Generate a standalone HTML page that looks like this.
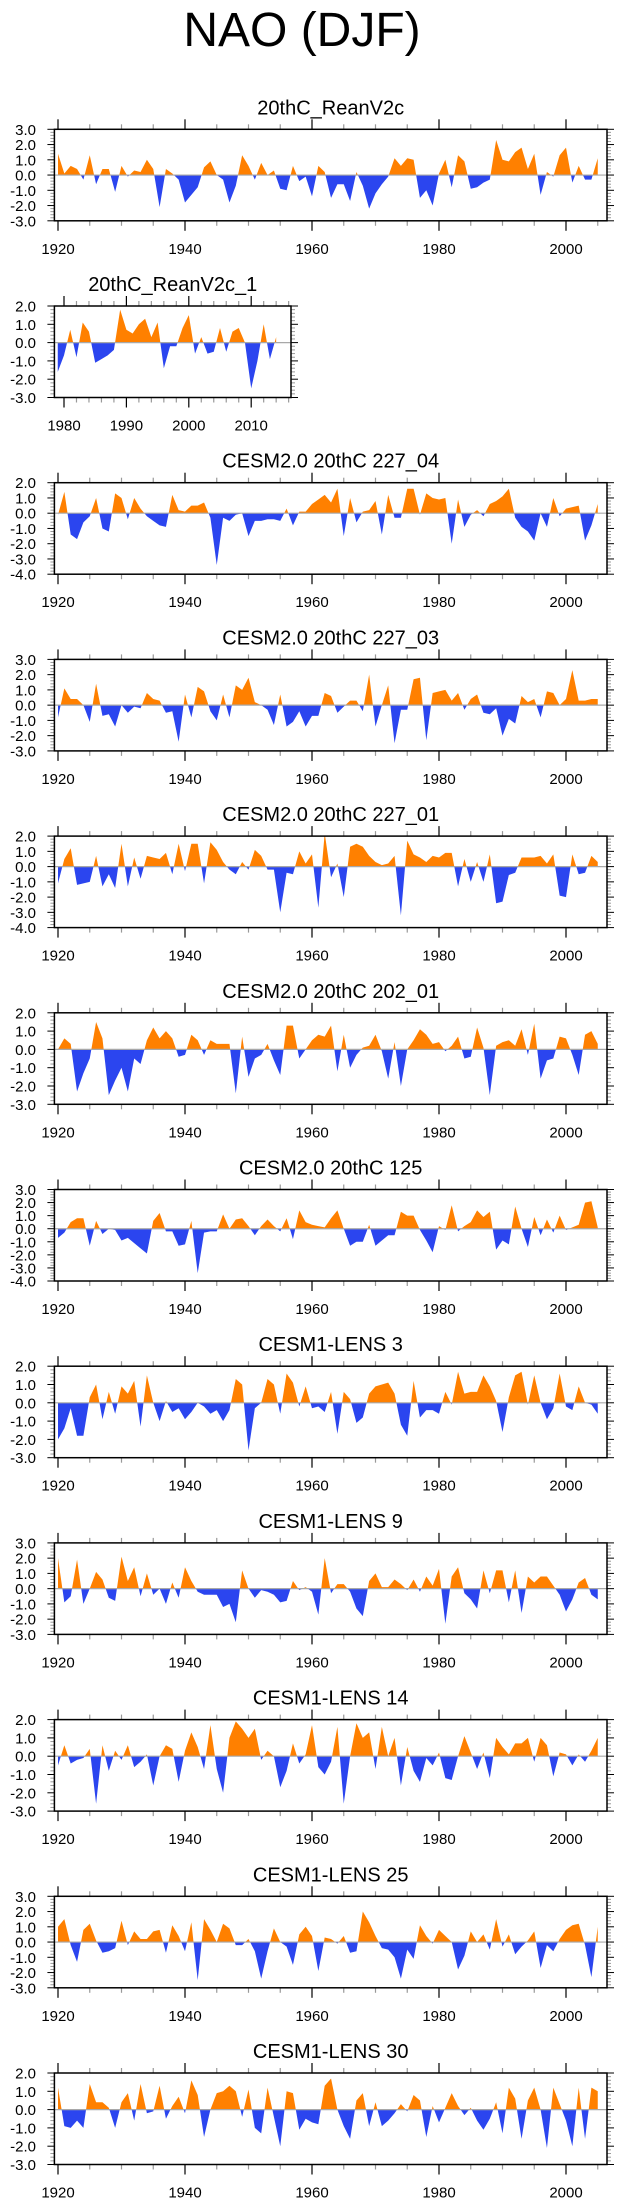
<!DOCTYPE html>
<html><head><meta charset="utf-8"><style>
html,body{margin:0;padding:0;background:#fff;}
svg{display:block;font-family:"Liberation Sans",Arial,sans-serif;}
</style></head><body>
<svg id="chart" width="623" height="2209" viewBox="0 0 623 2209" xmlns="http://www.w3.org/2000/svg">
<text x="302" y="46" font-size="48" text-anchor="middle" fill="#000">NAO (DJF)</text>
</svg>
<script>
const panelTitles = ["20thC_ReanV2c","20thC_ReanV2c_1","CESM2.0 20thC 227_04","CESM2.0 20thC 227_03","CESM2.0 20thC 227_01","CESM2.0 20thC 202_01","CESM2.0 20thC 125","CESM1-LENS 3","CESM1-LENS 9","CESM1-LENS 14","CESM1-LENS 25","CESM1-LENS 30"];
const panelYMax = [3,2,2,3,2,2,3,2,3,2,3,2];
const panelYMin = [-3,-3,-4,-3,-4,-3,-4,-3,-3,-3,-3,-3];
const startYears = [1920,1979,1920,1920,1920,1920,1920,1920,1920,1920,1920,1920];
const xTickLabels = ["1920","1940","1960","1980","2000"];
const xTickLabelsShort = ["1980","1990","2000","2010"];
const s1 = [1.4,0.1,0.6,0.4,-0.3,1.3,-0.6,0.4,0.4,-1.1,0.6,-0.1,0.3,0.2,1.0,0.4,-2.1,0.4,0.1,-0.3,-1.8,-1.3,-0.8,0.5,0.9,0.0,-0.3,-1.8,-0.7,1.3,0.6,-0.3,0.8,0.0,0.3,-0.9,-1.0,0.6,-0.4,-0.1,-1.4,0.6,0.2,-1.5,-0.6,-0.6,-1.7,0.2,-0.7,-2.2,-1.2,-0.6,-0.1,1.1,0.6,1.1,1.0,-1.5,-1.0,-2.0,0.1,1.0,-0.8,1.3,0.9,-0.9,-0.8,-0.5,-0.3,2.3,1.0,0.9,1.5,1.8,0.4,1.4,-1.3,0.2,-0.1,1.3,1.8,-0.5,0.6,-0.3,-0.3,1.1];
const s2 = [-1.6,-0.7,0.7,-0.8,1.1,0.6,-1.1,-0.9,-0.7,-0.4,1.8,0.7,0.5,1.0,1.3,0.3,1.1,-1.4,-0.2,-0.2,0.8,1.5,-0.6,0.3,-0.6,-0.5,0.8,-0.5,0.6,0.8,0.0,-2.5,-1.0,1.0,-0.9,0.3];
const s3 = [-0.1,1.4,-1.4,-1.7,-0.6,-0.2,1.0,-1.0,-1.2,1.3,1.0,-0.4,1.0,0.3,-0.2,-0.5,-0.8,-0.9,1.2,0.2,0.1,0.5,0.5,0.7,-0.3,-3.4,-0.3,-0.5,-0.1,0.0,-1.5,-0.5,-0.5,-0.4,-0.4,-0.5,0.3,-0.8,0.1,0.1,0.6,0.9,1.2,0.7,1.6,-1.5,1.0,-0.6,0.1,0.2,0.8,-1.4,1.2,-0.3,-0.3,1.6,1.6,-0.1,1.3,1.0,0.9,1.0,-2.0,0.9,-0.9,-0.1,0.2,-0.2,0.6,0.8,1.1,1.6,-0.3,-0.9,-1.2,-1.8,0.0,-0.9,1.0,-0.2,0.3,0.4,0.5,-1.8,-0.8,0.6];
const s4 = [-0.8,1.1,0.4,0.4,0.0,-1.1,1.4,-0.7,-0.6,-1.4,0.0,-0.5,-0.1,-0.2,0.8,0.4,0.3,-0.5,-0.4,-2.4,0.7,-0.8,1.2,0.9,-0.4,-1.0,0.7,-0.8,1.3,1.0,1.8,0.2,0.0,-0.3,-1.3,0.7,-1.4,-1.1,-0.4,-1.4,-0.7,-0.7,0.8,0.6,-0.5,-0.1,0.3,0.3,-0.4,2.0,-1.4,0.0,1.3,-2.5,-0.3,-0.3,1.7,1.8,-2.3,0.8,0.9,1.0,0.3,0.8,-0.3,0.4,0.7,-0.5,-0.6,-0.2,-2.0,-0.9,-1.2,0.6,0.2,0.4,-0.8,0.9,0.8,0.0,0.4,2.3,0.3,0.3,0.4,0.4];
const s5 = [-1.1,0.5,1.2,-1.2,-1.1,-1.0,0.7,-1.3,-0.5,-1.4,1.5,-1.3,0.6,-0.8,0.7,0.6,0.5,0.9,-0.5,1.5,-0.3,1.5,1.5,-1.1,1.6,1.1,0.3,-0.2,-0.5,0.3,-0.2,1.1,0.7,-0.2,-0.2,-3.0,-0.4,-0.5,1.0,0.2,0.8,-2.7,2.2,-0.7,0.2,-2.0,1.3,1.5,1.3,0.7,0.3,0.1,0.2,0.7,-3.2,1.7,0.8,0.6,0.3,0.7,0.6,0.9,0.9,-1.3,0.5,-1.0,0.3,-1.0,0.8,-2.4,-2.3,-0.55,-0.4,0.6,0.6,0.6,0.7,0.2,0.8,-1.9,-2.0,0.8,-0.5,-0.4,0.7,0.3];
const s6 = [0.0,0.6,0.3,-2.3,-1.3,-0.5,1.5,0.6,-2.5,-1.7,-1.0,-2.3,-0.5,-0.8,0.5,1.2,0.6,1.0,0.6,-0.4,-0.3,0.8,0.5,-0.3,0.5,0.3,0.3,0.3,-2.4,0.7,-1.5,-0.5,-0.3,0.3,-0.6,-1.4,1.3,1.3,-0.5,0.0,0.5,0.8,0.7,1.3,-1.2,0.8,-1.0,-0.3,0.1,0.2,0.8,-0.1,-1.6,0.4,-2.0,0.0,0.5,1.1,0.8,0.3,0.4,-0.1,0.2,0.7,-0.5,-0.4,1.2,0.1,-2.5,0.2,0.4,0.5,0.2,1.1,-0.3,1.4,-1.6,-0.6,-0.5,0.7,0.6,-0.3,-1.4,0.8,1.0,0.3];
const s7 = [-0.7,-0.3,0.5,0.8,0.8,-1.3,0.6,-0.4,0.0,-0.1,-0.9,-0.7,-1.1,-1.5,-1.9,0.6,1.2,-0.2,-0.2,-1.3,-1.2,0.6,-3.4,-0.3,-0.2,-0.2,1.1,0.0,0.7,0.8,0.2,-0.5,0.2,0.7,0.2,-0.2,0.8,-0.8,1.4,0.5,0.3,0.2,0.1,0.8,1.4,0.0,-1.3,-1.0,-1.0,0.3,-1.3,-0.9,-0.5,-0.5,1.3,1.0,1.0,-0.1,-0.9,-1.8,0.2,-0.1,1.8,-0.2,0.2,0.5,1.4,0.9,1.3,-1.6,-0.9,-1.2,1.7,0.0,-1.4,0.9,-0.5,0.7,-0.3,1.0,-0.1,0.1,0.3,2.0,2.1,0.1];
const s8 = [-2.0,-1.4,-0.3,-1.8,-1.8,0.3,1.0,-0.9,0.6,-0.6,0.9,0.5,1.2,-1.3,1.5,0.0,-1.0,0.1,-0.5,-0.3,-0.9,-0.5,0.0,-0.2,-0.6,-0.4,-1.0,-0.4,1.3,1.0,-2.6,-0.3,0.0,1.3,1.0,-0.6,1.6,1.1,-0.2,0.9,-0.3,-0.2,-0.5,0.6,-1.7,0.6,0.2,-1.1,-0.8,0.5,0.9,1.0,1.1,0.5,-1.2,-1.8,1.2,-0.8,-0.4,-0.4,-0.6,0.6,-0.1,1.7,0.5,0.6,0.6,1.5,0.9,0.1,-1.6,0.3,1.5,1.7,-0.1,1.5,0.0,-0.9,-0.3,1.6,-0.2,-0.4,0.9,0.0,-0.1,-0.6];
const s9 = [2.0,-0.9,-0.5,1.9,-1.0,0.0,1.1,0.6,-0.6,-0.8,2.1,0.5,1.4,-0.5,1.0,-0.4,0.0,-1.0,0.4,-0.6,1.4,0.5,-0.2,-0.4,-0.4,-0.4,-1.2,-1.0,-2.2,1.2,0.0,-0.6,-0.1,-0.2,-0.4,-0.9,-0.8,0.5,-0.1,0.1,-0.2,-1.7,2.0,-0.3,0.3,0.3,-0.2,-1.3,-1.8,0.5,1.0,0.1,0.1,0.6,0.3,-0.1,0.6,-0.2,0.8,0.2,1.3,-2.3,0.8,1.4,-0.3,-0.7,-1.3,1.2,-0.3,1.2,1.2,-0.9,1.2,-1.6,0.8,0.4,0.8,0.8,0.2,-0.4,-1.5,-0.7,0.4,0.7,-0.4,-0.7];
const s10 = [-0.5,0.6,-0.4,-0.2,-0.1,0.4,-2.6,0.6,-0.8,0.3,-0.2,0.6,-0.6,-0.3,0.1,-1.6,0.0,0.6,0.4,-1.4,0.3,1.3,0.5,-0.7,1.7,-0.7,-2.0,1.0,1.9,1.5,1.0,1.5,-0.2,0.3,0.0,-1.7,-0.8,0.7,-0.4,0.1,1.7,-0.6,-1.0,-0.3,1.6,-2.6,0.0,1.8,1.0,1.3,-0.7,1.6,0.0,1.0,-1.6,0.5,-0.8,-1.4,-0.1,-0.5,0.2,-1.2,-1.3,0.0,1.1,0.2,-0.7,0.2,-1.2,1.0,0.5,0.1,0.7,0.7,1.0,-0.3,1.0,0.6,-1.1,0.2,0.1,-0.5,0.1,-0.3,0.3,1.0];
const s11 = [1.0,1.5,-0.2,-1.3,0.8,1.2,0.1,-0.7,-0.6,-0.4,1.4,-0.2,0.7,0.2,0.2,0.7,0.8,-0.7,1.1,0.4,-0.6,1.3,-2.5,1.5,0.8,0.0,1.2,0.9,-0.2,-0.2,0.2,-0.6,-2.4,-0.6,0.9,0.0,-0.3,-1.5,0.5,1.0,0.4,-1.9,0.3,0.2,-0.1,0.4,-0.7,-0.6,2.0,1.3,0.4,-0.4,-0.5,-1.0,-2.4,-0.5,-1.1,1.1,0.4,-0.1,0.8,0.4,0.0,-1.8,-0.9,0.7,0.0,0.5,-0.5,1.5,-0.3,0.5,-0.8,-0.3,0.1,0.7,-1.7,-0.2,-0.6,0.2,0.8,1.1,1.2,-0.2,-2.3,1.0];
const s12 = [1.2,-0.9,-1.0,-0.6,-1.0,1.4,0.4,0.4,0.1,-1.0,0.4,0.9,-0.6,1.4,-0.2,-0.1,1.3,-0.5,0.2,0.7,-0.2,1.6,0.8,-1.5,0.0,0.9,1.0,1.3,1.0,-0.4,1.1,-1.0,-1.3,1.2,-0.4,-2.0,1.0,0.9,-1.1,-0.5,-0.7,-0.8,1.3,1.7,0.0,-0.9,-1.6,0.5,0.9,-0.9,0.4,-0.9,-0.6,-0.2,0.3,-0.1,0.8,0.5,-1.5,0.2,-0.7,0.1,0.9,0.2,-0.3,0.1,-0.6,-1.1,-0.5,0.4,-1.3,1.2,0.6,-1.6,0.5,1.2,0.0,-2.1,1.2,0.3,-0.6,-2.0,1.2,-1.6,1.2,1.0];
const seriesList = [s1,s2,s3,s4,s5,s6,s7,s8,s9,s10,s11,s12];

const NS = "http://www.w3.org/2000/svg";
const svg = document.getElementById("chart");
function mk(tag, attrs, parent){ const e=document.createElementNS(NS,tag); for(const k in attrs) e.setAttribute(k,attrs[k]); (parent||svg).appendChild(e); return e; }

const BOX_H = 91.5, TOP0 = 129.3, STEP = 176.7;
seriesList.forEach((vals, p) => {
  const g = mk("g", {});
  
  
  const short = p === 1;
  const L = 54.4, R = short ? 291 : 607;
  const top = TOP0 + p*STEP, bot = top + BOX_H;
  const yMax = panelYMax[p], yMin = panelYMin[p];
  const y0 = startYears[p];
  const xs = short ? (yr => 64 + (yr-1980)*6.24) : (yr => 58 + (yr-1920)*6.35);
  const ys = v => top + (yMax - v)/(yMax - yMin)*BOX_H;
  const zy = ys(0);
  // clip paths
  const cidA = "ca"+p, cidB = "cb"+p;
  const defs = mk("defs", {}, g);
  const cA = mk("clipPath", {id:cidA}, defs); mk("rect",{x:L,y:top,width:R-L,height:zy-top},cA);
  const cB = mk("clipPath", {id:cidB}, defs); mk("rect",{x:L,y:zy,width:R-L,height:bot-zy},cB);
  let d = "M"+xs(y0).toFixed(2)+","+zy.toFixed(2);
  vals.forEach((v,i)=>{ d += " L"+xs(y0+i).toFixed(2)+","+ys(v).toFixed(2); });
  d += " L"+xs(y0+vals.length-1).toFixed(2)+","+zy.toFixed(2)+" Z";
  const pos = mk("path",{d:d,fill:"#ff8000","clip-path":"url(#"+cidA+")"},g);
  
  
  const neg = mk("path",{d:d,fill:"#2b45ef","clip-path":"url(#"+cidB+")"},g);
  
  
  const zl = mk("line",{x1:L,x2:R,y1:zy,y2:zy,stroke:"#a8a8a8","stroke-width":1.2},g);
  
  
  // y ticks
  for(let v=yMin; v<=yMax+1e-9; v+=0.2){
    const vv = Math.round(v*10)/10, y = ys(vv);
    const major = Math.abs(vv - Math.round(vv))<1e-6;
    const len = major ? 7 : 4, col = major ? "#000" : "#999";
    mk("line",{x1:L-len,x2:L,y1:y,y2:y,stroke:col,"stroke-width":1},g);
    mk("line",{x1:R,x2:R+len,y1:y,y2:y,stroke:col,"stroke-width":1},g);
    if(major){
      const t = mk("text",{x:36,y:y+5.5,"font-size":15,"text-anchor":"end",fill:"#000"},g);
      t.textContent = vv.toFixed(1);
      
      
    }
  }
  // x ticks
  const first = short ? 1980 : 1920, last = short ? 2016 : 2006, majStep = short?10:20, minStep = short?2:5;
  for(let yr=first; yr<=last; yr+=minStep){
    const x = xs(yr), major = (yr-first)%majStep===0;
    const len = major ? 10 : 5, col = major ? "#000" : "#999";
    mk("line",{x1:x,x2:x,y1:top-len,y2:top,stroke:col,"stroke-width":1.2},g);
    mk("line",{x1:x,x2:x,y1:bot,y2:bot+len,stroke:col,"stroke-width":1.2},g);
  }
  const labels = short ? xTickLabelsShort : xTickLabels;
  labels.forEach(lb => {
    const t = mk("text",{x:xs(+lb),y:bot+33,"font-size":15,"text-anchor":"middle",fill:"#000"},g);
    t.textContent = lb;
    
    
  });
  const box = mk("rect",{x:L,y:top,width:R-L,height:BOX_H,fill:"none",stroke:"#000","stroke-width":1.5},g);
  
  
  const tt = mk("text",{x:(L+R)/2,y:top-15,"font-size":20,"text-anchor":"middle",fill:"#000"},g);
  tt.textContent = panelTitles[p];
  
  
});
</script>
</body></html>
